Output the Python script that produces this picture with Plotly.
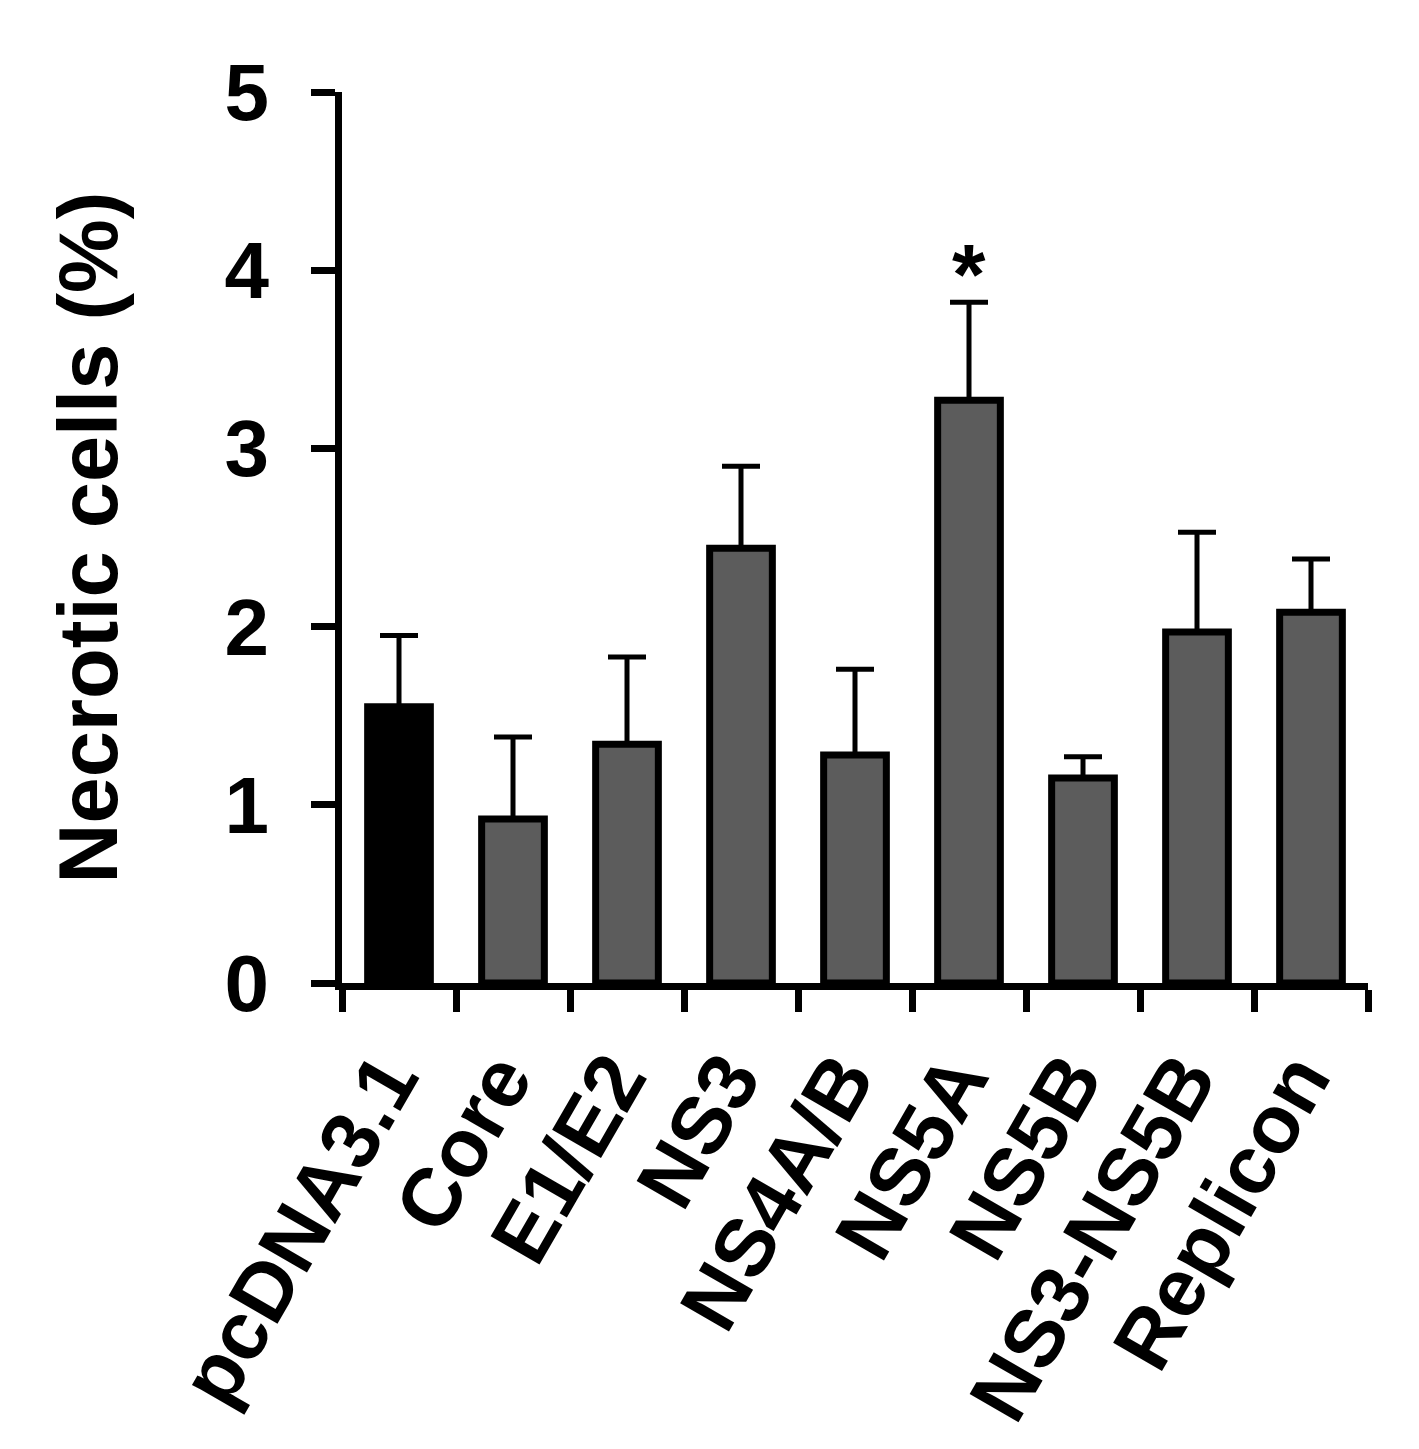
import plotly.graph_objects as go

# ---------------------------
# DATA
# ---------------------------
CATEGORIES = ["pcDNA3.1", "Core", "E1/E2", "NS3", "NS4A/B", "NS5A", "NS5B", "NS3-NS5B", "Replicon"]
MEANS = [1.55, 0.92, 1.34, 2.44, 1.28, 3.27, 1.15, 1.97, 2.08]
ERR_TOP = [1.95, 1.38, 1.83, 2.90, 1.76, 3.82, 1.27, 2.53, 2.38]
ERRORS = [t - m for t, m in zip(ERR_TOP, MEANS)]
BAR_COLORS = ["#000000"] + ["#5c5c5c"] * 8
Y_TICKS = [0, 1, 2, 3, 4, 5]

FONT = "Liberation Sans, Arial, sans-serif"

fig = go.Figure()

fig.add_trace(go.Bar(
    x=CATEGORIES,
    y=MEANS,
    width=0.55,
    marker=dict(color=BAR_COLORS, line=dict(color="black", width=7)),
    error_y=dict(
        type="data",
        symmetric=False,
        array=ERRORS,
        arrayminus=[0] * len(ERRORS),
        color="black",
        thickness=5,
        width=19,
    ),
    showlegend=False,
))

# significance mark over NS5A
fig.add_annotation(
    x="NS5A", y=3.98, text="<b>*</b>", showarrow=False,
    font=dict(family=FONT, size=86, color="black"),
    yanchor="middle",
)

# body has an 8px margin in the page, so the figure is made 8px smaller
fig.update_layout(
    width=1411,
    height=1441,
    margin=dict(l=334, r=51, t=84, b=466),
    plot_bgcolor="white",
    paper_bgcolor="white",
    font=dict(family=FONT, color="black"),
    xaxis=dict(
        type="category",
        range=[-0.5, 8.5],
        automargin=False,
        tickson="boundaries",
        ticks="outside",
        ticklen=22,
        tickwidth=7,
        tickcolor="black",
        showline=True,
        linewidth=7,
        linecolor="black",
        tickangle=-60,
        tickfont=dict(family=FONT, size=82, color="black", weight="bold"),
        ticklabelstandoff=8,
        ticklabelshift=-14,
        showgrid=False,
        zeroline=False,
    ),
    yaxis=dict(
        range=[0, 5],
        automargin=False,
        tickvals=Y_TICKS,
        ticks="outside",
        ticklen=24,
        tickwidth=7,
        tickcolor="black",
        showline=True,
        linewidth=7,
        linecolor="black",
        tickfont=dict(family=FONT, size=80, color="black", weight="bold"),
        ticklabelstandoff=26,
        showgrid=False,
        zeroline=False,
        title=dict(
            text="<b>Necrotic cells (%)</b>",
            font=dict(family=FONT, size=83, color="black"),
            standoff=82,
        ),
    ),
)

fig.write_html("out.html")
